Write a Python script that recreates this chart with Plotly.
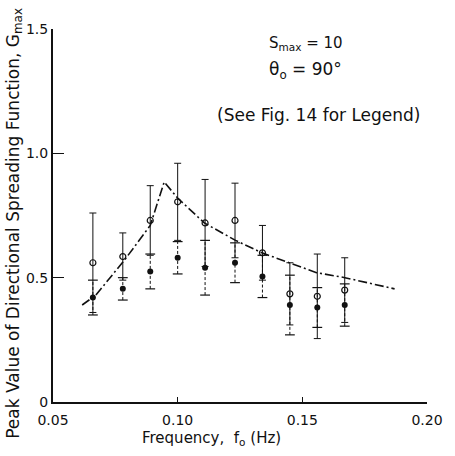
import plotly.graph_objects as go

# ---- data ----
freq = [0.066, 0.078, 0.089, 0.100, 0.111, 0.123, 0.134, 0.145, 0.156, 0.167]

g_open = [0.56, 0.585, 0.73, 0.805, 0.72, 0.73, 0.60, 0.435, 0.425, 0.45]
err_open = [0.20, 0.095, 0.14, 0.155, 0.175, 0.15, 0.11, 0.125, 0.17, 0.13]

g_fill = [0.42, 0.455, 0.525, 0.58, 0.54, 0.56, 0.505, 0.39, 0.38, 0.39]
err_fill = [0.07, 0.045, 0.07, 0.065, 0.11, 0.08, 0.085, 0.12, 0.08, 0.085]

theory_f = [0.0617, 0.0672, 0.079, 0.089, 0.0946, 0.100, 0.1107, 0.1232,
            0.1338, 0.1451, 0.1557, 0.1671, 0.187]
theory_g = [0.39, 0.43, 0.575, 0.71, 0.885, 0.82, 0.72, 0.65,
            0.60, 0.56, 0.52, 0.50, 0.455]

x_ticks = [0.05, 0.10, 0.15, 0.20]
x_ticktext = ["0.05", "0.10", "0.15", "0.20"]
y_ticks = [0, 0.5, 1.0, 1.5]
y_ticktext = ["0", "0.5", "1.0", "1.5"]

FONT = "DejaVu Sans"
INK = "#111111"

fig = go.Figure()

# theory curve (dash-dot)
fig.add_trace(go.Scatter(
    x=theory_f, y=theory_g, mode="lines",
    line=dict(color=INK, width=1.6, dash="9px,3px,2px,3px"),
    hoverinfo="skip", showlegend=False))

# dashed error bars for filled circles
bx, by, cx, cy = [], [], [], []
for f, g, e in zip(freq, g_fill, err_fill):
    bx += [f, f, None]
    by += [g - e, g + e, None]
    cx += [f, f]
    cy += [g - e, g + e]
fig.add_trace(go.Scatter(
    x=bx, y=by, mode="lines",
    line=dict(color=INK, width=1, dash="3px,2px"),
    hoverinfo="skip", showlegend=False))
fig.add_trace(go.Scatter(
    x=cx, y=cy, mode="markers",
    marker=dict(symbol="line-ew", size=7, line=dict(color=INK, width=1.2)),
    hoverinfo="skip", showlegend=False))

# open circles with solid error bars
fig.add_trace(go.Scatter(
    x=freq, y=g_open, mode="markers",
    marker=dict(symbol="circle-open", size=6, color=INK, line=dict(width=1.2)),
    error_y=dict(type="data", array=err_open, visible=True,
                 color=INK, thickness=1, width=3.5),
    showlegend=False))

# filled circles
fig.add_trace(go.Scatter(
    x=freq, y=g_fill, mode="markers",
    marker=dict(symbol="circle", size=6, color=INK),
    showlegend=False))

fig.update_layout(
    width=455, height=456,
    margin=dict(l=53, r=19, t=29, b=54),
    paper_bgcolor="white", plot_bgcolor="white",
    font=dict(family=FONT, size=14, color=INK),
    showlegend=False,
    xaxis=dict(range=[0.05, 0.20], tickvals=x_ticks, ticktext=x_ticktext,
               ticks="inside", ticklen=5, tickwidth=1, tickcolor=INK,
               showline=True, linecolor=INK, linewidth=1.5,
               showgrid=False, zeroline=False,
               tickfont=dict(size=14), ticklabelstandoff=4),
    yaxis=dict(range=[0, 1.5], tickvals=y_ticks, ticktext=y_ticktext,
               ticks="inside", ticklen=11, tickwidth=1.2, tickcolor=INK,
               showline=True, linecolor=INK, linewidth=2,
               showgrid=False, zeroline=False,
               tickfont=dict(size=14)),
)

ann = [
    dict(text="Peak Value of Directional Spreading Function, G<sub>max</sub>",
         x=-0.102, y=0.48, textangle=-90, font=dict(size=17)),
    dict(text="Frequency,  f<sub>o</sub> (Hz)", x=0.423, y=-0.099,
         font=dict(size=15)),
    dict(text="S<sub>max</sub> = 10", x=0.677, y=0.960, font=dict(size=15)),
    dict(text="θ<sub>o</sub> = 90°", x=0.674, y=0.890, font=dict(size=17)),
    dict(text="(See Fig. 14 for Legend)", x=0.710, y=0.769, font=dict(size=17)),
]
for a in ann:
    fig.add_annotation(xref="paper", yref="paper", showarrow=False,
                       xanchor="center", yanchor="middle", **a)

fig.write_html("out.html")
